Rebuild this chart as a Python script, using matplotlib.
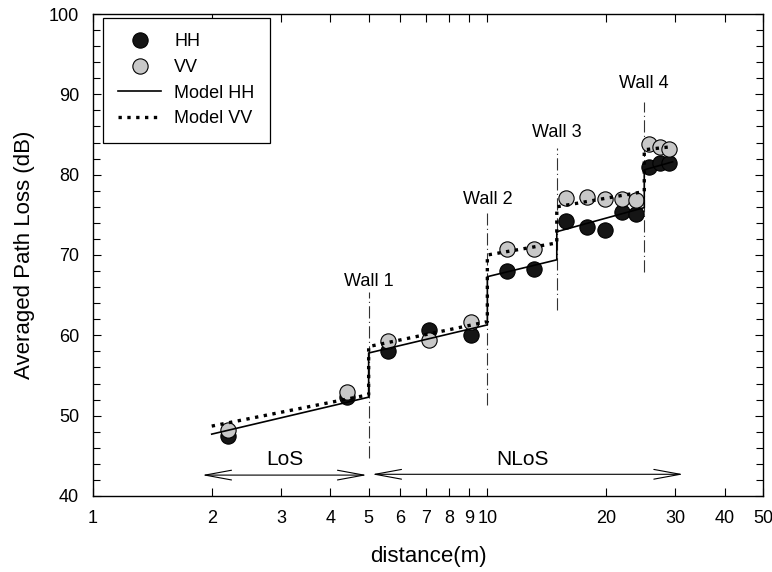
import matplotlib.pyplot as plt
import numpy as np
from matplotlib.ticker import FixedLocator, NullLocator, MultipleLocator, NullFormatter

plt.rcParams['font.family'] = ['Liberation Sans', 'DejaVu Sans']

# measured points
hh_x = [2.2, 4.4, 5.6, 7.1, 9.1, 11.2, 13.1, 15.8, 17.9, 19.9, 22.0, 23.8, 25.7, 27.4, 28.9]
hh_y = [47.5, 52.3, 58.0, 60.7, 60.0, 68.0, 68.2, 74.2, 73.5, 73.1, 75.3, 75.1, 81.0, 81.5, 81.5]
vv_x = [2.2, 4.4, 5.6, 7.1, 9.1, 11.2, 13.1, 15.8, 17.9, 19.9, 22.0, 23.8, 25.7, 27.4, 28.9]
vv_y = [48.2, 53.0, 59.3, 59.4, 61.6, 70.7, 70.8, 77.1, 77.2, 77.0, 77.0, 76.8, 83.8, 83.5, 83.2]

# models (piecewise, jumps at walls)
model_x = [2, 5, 5, 10, 10, 15, 15, 25, 25, 29.5]
model_hh = [47.7, 52.3, 57.8, 61.3, 67.3, 69.4, 72.9, 75.9, 80.6, 81.6]
model_vv = [48.7, 52.6, 58.6, 61.7, 70.0, 71.5, 76.0, 77.9, 83.1, 83.5]

# walls
wall_x = [5, 10, 15, 25]
wall_bottom = [44.7, 51.3, 63.2, 67.9]
wall_top = [65.4, 75.2, 83.3, 89.1]
wall_label_y = [66.7, 76.9, 85.3, 91.3]
wall_names = ['Wall 1', 'Wall 2', 'Wall 3', 'Wall 4']

x_ticks = [1, 2, 3, 4, 5, 6, 7, 8, 9, 10, 20, 30, 40, 50]

fig = plt.figure(figsize=(7.72, 5.72), dpi=100)
ax = fig.add_axes([0.1205, 0.1329, 0.8678, 0.8426])

ax.plot(hh_x, hh_y, 'o', color='#151515', mec='#000000', mew=0.8, ms=11, label='HH', zorder=3)
ax.plot(vv_x, vv_y, 'o', color='#c8c8c8', mec='#000000', mew=0.8, ms=11, label='VV', zorder=3)
ax.plot(model_x, model_hh, '-', color='black', lw=1.2, label='Model HH', zorder=4)
ax.plot(model_x, model_vv, ':', color='black', lw=2.4, label='Model VV', zorder=4)

for wx, b, t, ly, name in zip(wall_x, wall_bottom, wall_top, wall_label_y, wall_names):
    ax.plot([wx, wx], [b, t], color='#333333', lw=0.8, dashes=[11, 3, 1, 3], zorder=2)
    ax.text(wx, ly, name, ha='center', va='center', fontsize=13)

arr = dict(arrowstyle='<->,head_length=1.9,head_width=0.35', color='black', lw=0.8,
           shrinkA=0, shrinkB=0)
ax.annotate('', xy=(1.89, 42.6), xytext=(4.95, 42.6), arrowprops=arr)
ax.annotate('', xy=(5.1, 42.7), xytext=(31.4, 42.7), arrowprops=arr)
ax.text(3.07, 44.6, 'LoS', ha='center', va='center', fontsize=15)
ax.text(12.3, 44.6, 'NLoS', ha='center', va='center', fontsize=15)

ax.set_xscale('log')
ax.set_xlim(1, 50)
ax.set_ylim(40, 100)
ax.xaxis.set_major_locator(FixedLocator(x_ticks))
ax.xaxis.set_major_formatter(plt.FixedFormatter([str(v) for v in x_ticks]))
ax.xaxis.set_minor_locator(NullLocator())
ax.xaxis.set_minor_formatter(NullFormatter())
ax.yaxis.set_major_locator(MultipleLocator(10))
ax.yaxis.set_minor_locator(MultipleLocator(2))
ax.tick_params(which='both', direction='in', top=True, right=True, labelsize=13)
ax.tick_params(axis='x', pad=10)
ax.tick_params(axis='y', pad=10)
ax.tick_params(which='major', length=6, width=0.8)
ax.tick_params(which='minor', length=5, width=0.8)
for s in ax.spines.values():
    s.set_linewidth(1.0)

ax.set_xlabel('distance(m)', fontsize=16, labelpad=14)
ax.set_ylabel('Averaged Path Loss (dB)', fontsize=16, labelpad=10)

leg = ax.legend(loc='upper left', bbox_to_anchor=(0.0145, 0.992), fontsize=13, frameon=True,
                fancybox=False, edgecolor='black', framealpha=1, handlelength=2.4,
                borderpad=0.85, labelspacing=0.48, handletextpad=0.7, borderaxespad=0)
leg.get_frame().set_linewidth(0.9)

fig.savefig('out.png', dpi=100)
